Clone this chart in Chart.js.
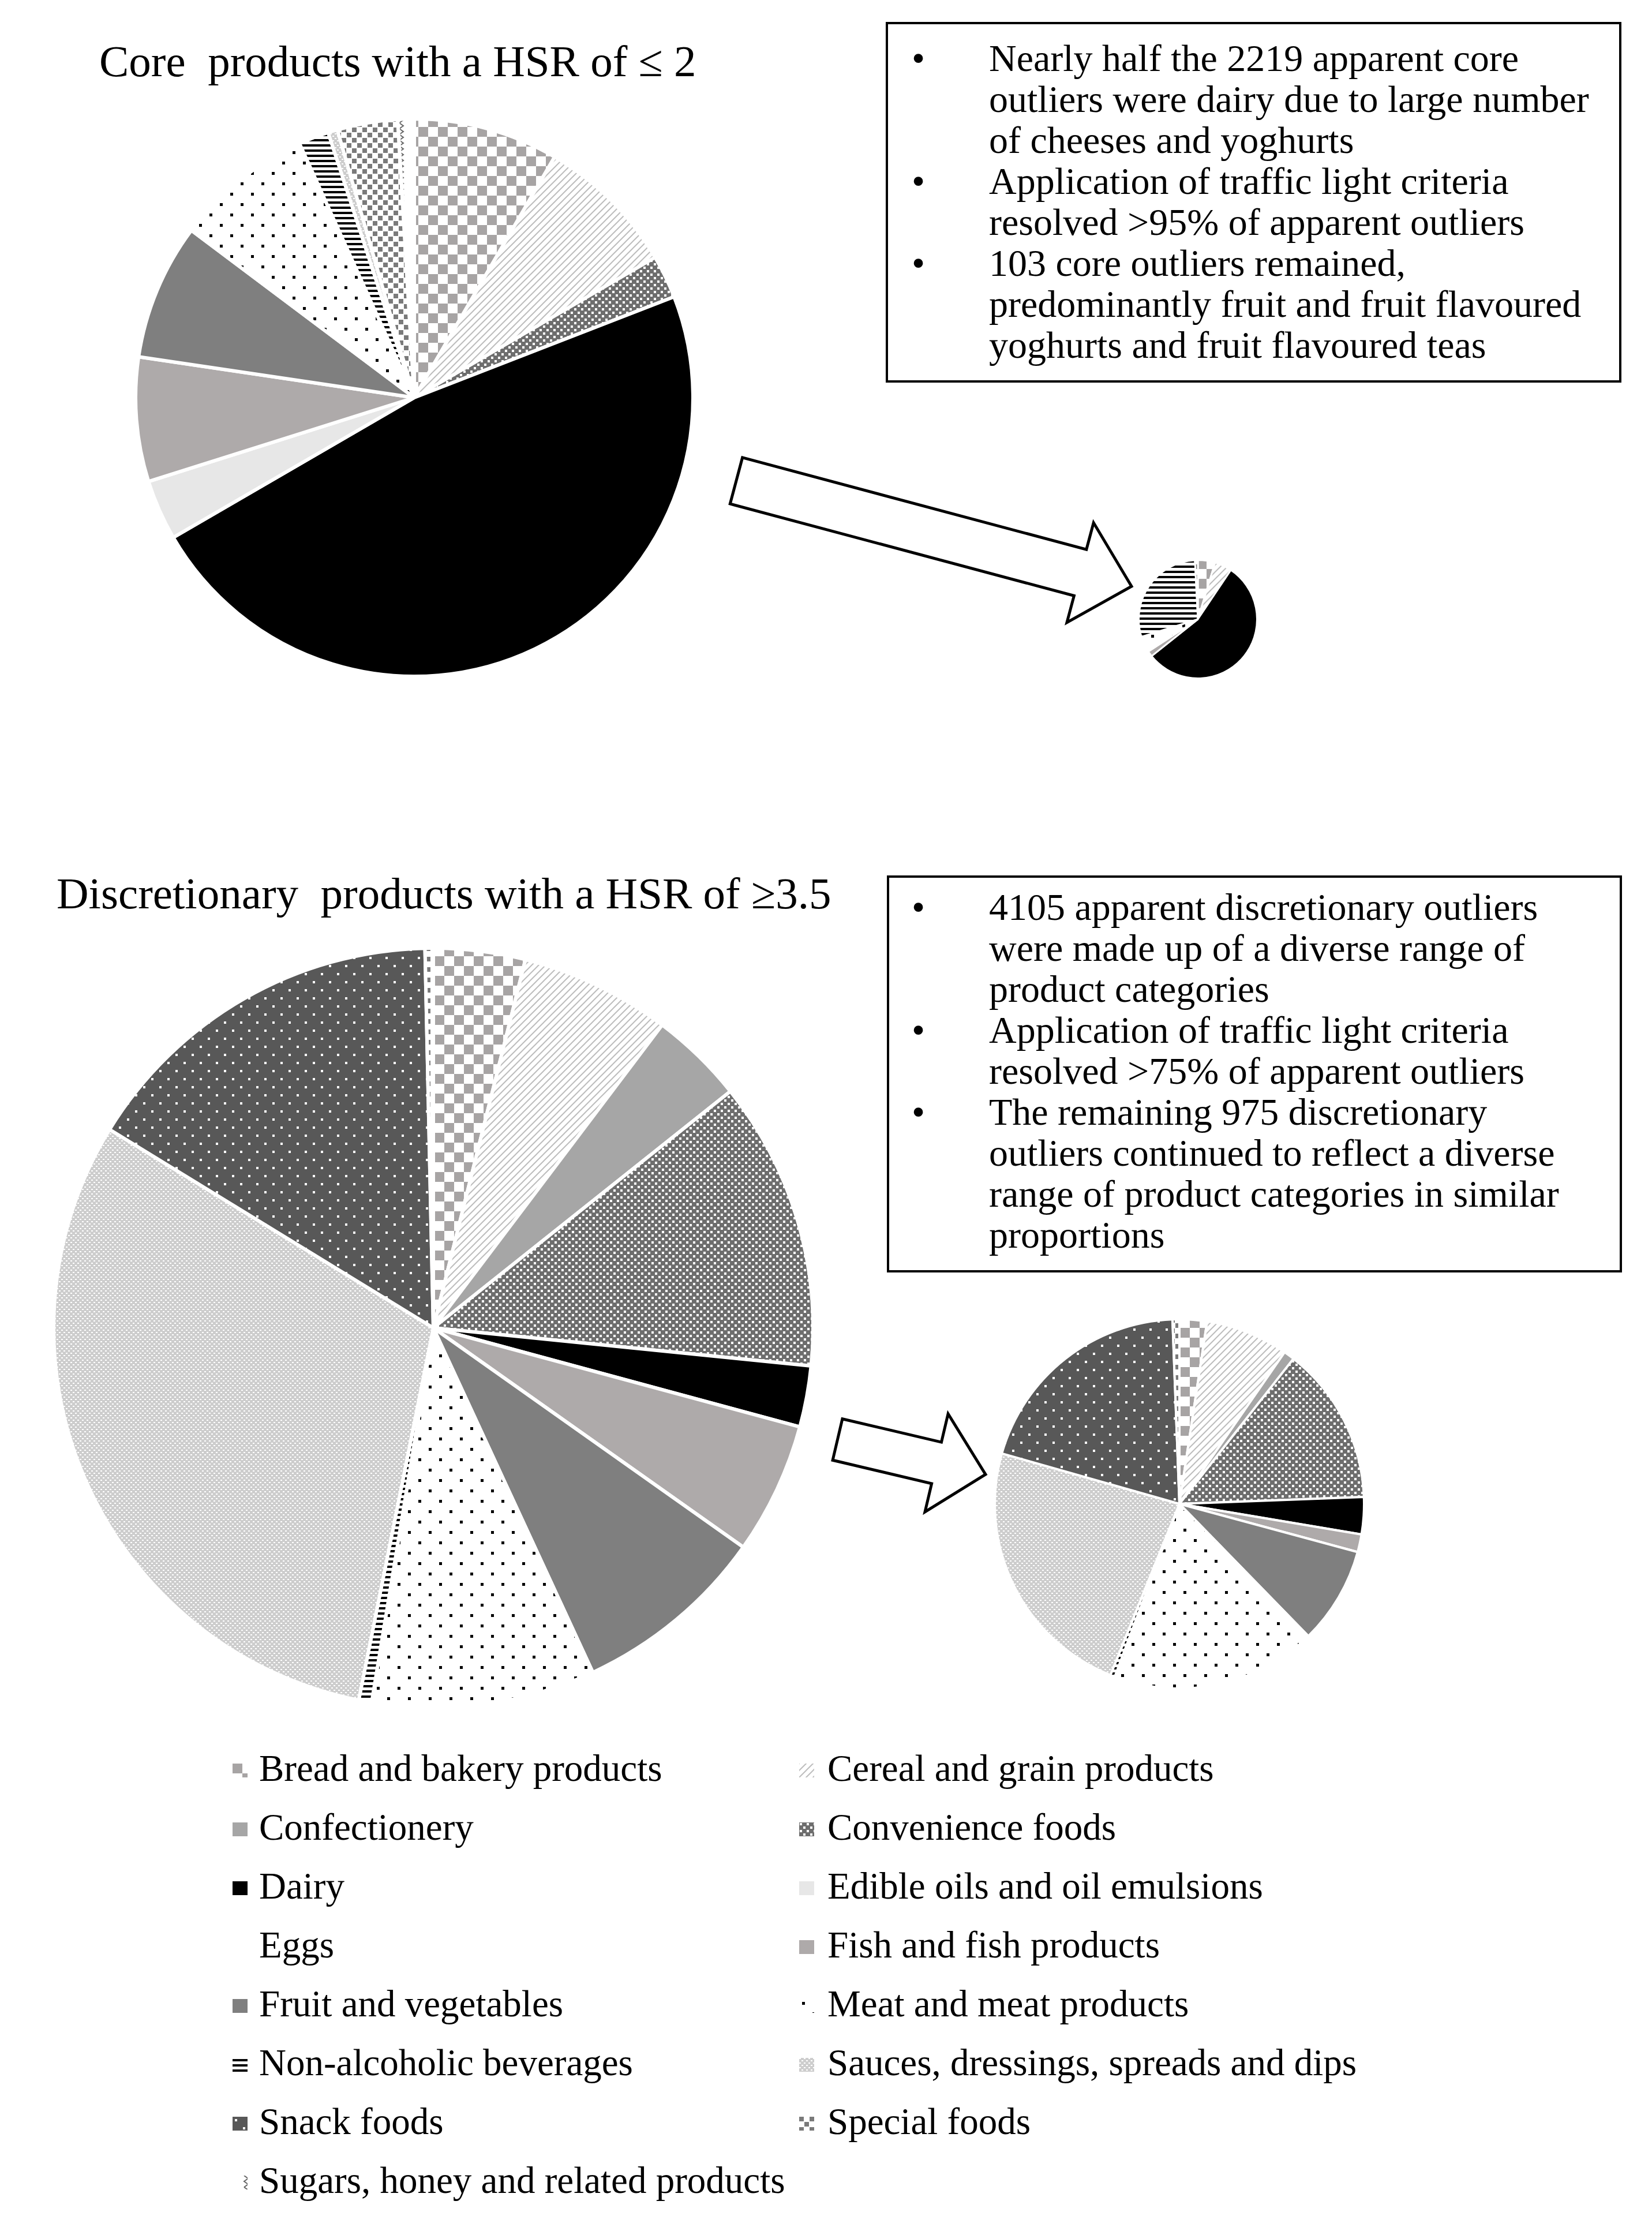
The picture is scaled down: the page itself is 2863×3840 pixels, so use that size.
<!DOCTYPE html>
<html lang="en">
<head>
<meta charset="UTF-8" />
<title>Core and discretionary outliers</title>
<style>
  html, body { margin: 0; padding: 0; background: #fff; }
  body { width: 2863px; height: 3840px; position: relative; overflow: hidden;
         font-family: "Liberation Serif", serif; color: #000; }
  .title { position: absolute; font-size: 77px; line-height: 77px; white-space: pre; }
  .box { position: absolute; border: 4px solid #000; box-sizing: border-box; }
  .item { position: relative; font-size: 66px; line-height: 71px; white-space: pre; }
  .bullet { position: absolute; top: 0; }
  canvas.pie { position: absolute; }
  .leg { position: absolute; font-size: 65px; line-height: 65px; white-space: pre; }
  .sw { position: absolute; }
  svg { position: absolute; left: 0; top: 0; }
</style>
<script src="https://cdn.jsdelivr.net/npm/chart.js"></script>
</head>
<body>

<div class="title" style="left:172px; top:68px;">Core  products with a HSR of ≤ 2</div>
<div class="title" style="left:98px; top:1510px;">Discretionary  products with a HSR of ≥3.5</div>

<div class="box" id="box1" style="left:1535px; top:38px; width:1275px; height:625px; padding:23px 0 0 175px;"></div>
<div class="box" id="box2" style="left:1537px; top:1517px; width:1274px; height:688px; padding:15px 0 0 173px;"></div>

<svg width="2863" height="3840">
  <polygon id="arrow1" fill="#fff" stroke="#000" stroke-width="5" stroke-linejoin="miter"></polygon>
  <polygon id="arrow2" fill="#fff" stroke="#000" stroke-width="5" stroke-linejoin="miter"></polygon>
</svg>

<canvas class="pie" id="coreApparentPie"></canvas>
<canvas class="pie" id="coreRemainingPie"></canvas>
<canvas class="pie" id="discApparentPie"></canvas>
<canvas class="pie" id="discRemainingPie"></canvas>

<div id="legend"></div>

<script>
  const categories = [
    "Bread and bakery products", "Cereal and grain products",
    "Confectionery", "Convenience foods",
    "Dairy", "Edible oils and oil emulsions",
    "Eggs", "Fish and fish products",
    "Fruit and vegetables", "Meat and meat products",
    "Non-alcoholic beverages", "Sauces, dressings, spreads and dips",
    "Snack foods", "Special foods",
    "Sugars, honey and related products"
  ];

  // share of outliers per category (%)
  const coreApparent  = [8.4, 8.2, 0, 2.5, 47.5, 3.5, 0, 7.2, 7.9, 8.0, 1.75, 0.55, 0, 3.5, 0.95];
  const coreRemaining = [4.7, 4.7, 0, 0, 54.9, 0, 0, 1.5, 0, 4.4, 29.0, 0, 0, 0.8, 0];
  const discApparent  = [3.9, 6.4, 4.0, 12.3, 2.6, 0, 0, 5.6, 8.3, 9.5, 0.55, 30.6, 15.9, 0.3, 0.05];
  const discRemaining = [2.4, 7.25, 0.95, 13.8, 3.25, 0, 0, 1.55, 8.5, 18.0, 0.4, 23.3, 20.0, 0.6, 0];

  const coreNotes = [
    ["Nearly half the 2219 apparent core", "outliers were dairy due to large number", "of cheeses and yoghurts"],
    ["Application of traffic light criteria", "resolved >95% of apparent outliers"],
    ["103 core outliers remained,", "predominantly fruit and fruit flavoured", "yoghurts and fruit flavoured teas"]
  ];
  const discNotes = [
    ["4105 apparent discretionary outliers", "were made up of a diverse range of", "product categories"],
    ["Application of traffic light criteria", "resolved >75% of apparent outliers"],
    ["The remaining 975 discretionary", "outliers continued to reflect a diverse", "range of product categories in similar", "proportions"]
  ];

  // black and white fill patterns, like the printed figure
  function tile(w, h, bg, draw) {
    const c = document.createElement('canvas');
    c.width = w; c.height = h;
    const g = c.getContext('2d');
    g.fillStyle = bg;
    g.fillRect(0, 0, w, h);
    if (draw) draw(g);
    return g.createPattern(c, 'repeat');
  }

  const fills = [
    tile(34, 34, '#fff', g => { g.fillStyle = '#a7a4a4'; g.fillRect(0, 0, 17, 17); g.fillRect(17, 17, 17, 17); }),
    tile(12, 12, '#fff', g => {
      g.strokeStyle = '#bdbdbd'; g.lineWidth = 2; g.beginPath();
      g.moveTo(0, 12); g.lineTo(12, 0); g.moveTo(-6, 6); g.lineTo(6, -6); g.moveTo(6, 18); g.lineTo(18, 6);
      g.stroke();
    }),
    '#a6a6a6',
    tile(12, 12, '#6e6e6e', g => { g.fillStyle = '#fff'; g.fillRect(1, 1, 4, 4); g.fillRect(7, 7, 4, 4); }),
    '#000000',
    '#e7e7e7',
    '#ffffff',
    '#aeaaaa',
    '#7f7f7f',
    tile(36, 36, '#fff', g => { g.fillStyle = '#000'; g.fillRect(5, 5, 5, 5); g.fillRect(23, 23, 5, 5); }),
    tile(9, 9, '#fff', g => { g.fillStyle = '#000'; g.fillRect(0, 2, 9, 4); }),
    tile(8, 8, '#cdcdcd', g => { g.fillStyle = '#fff'; g.fillRect(0, 0, 3, 2); g.fillRect(4, 4, 3, 2); }),
    tile(28, 28, '#585858', g => { g.fillStyle = '#fff'; g.fillRect(4, 4, 4, 4); g.fillRect(18, 18, 4, 4); }),
    tile(18, 18, '#fff', g => { g.fillStyle = '#7a7a7a'; g.fillRect(0, 0, 8, 8); g.fillRect(9, 9, 8, 8); }),
    tile(40, 20, '#fff', g => {
      g.strokeStyle = '#666'; g.lineWidth = 2; g.beginPath();
      g.moveTo(20, 0); g.lineTo(27, 5); g.lineTo(20, 10); g.lineTo(27, 15); g.lineTo(20, 20);
      g.stroke();
    })
  ];

  function drawPie(id, values, cx, cy, r, bw) {
    const size = 2 * (r + bw);
    const canvas = document.getElementById(id);
    canvas.width = size;
    canvas.height = size;
    canvas.style.left = (cx - size / 2) + 'px';
    canvas.style.top = (cy - size / 2) + 'px';
    canvas.style.width = size + 'px';
    canvas.style.height = size + 'px';
    return new Chart(canvas, {
      type: 'pie',
      data: {
        labels: categories,
        datasets: [{ data: values, backgroundColor: fills, borderColor: '#ffffff', borderWidth: bw }]
      },
      options: {
        responsive: false,
        devicePixelRatio: 1,
        animation: false,
        events: [],
        layout: { padding: 0 },
        plugins: { legend: { display: false }, tooltip: { enabled: false } }
      }
    });
  }

  drawPie('coreApparentPie', coreApparent, 718, 689, 480, 6);
  drawPie('coreRemainingPie', coreRemaining, 2076, 1073, 101, 3);
  drawPie('discApparentPie', discApparent, 751, 2301, 655, 6);
  drawPie('discRemainingPie', discRemaining, 2044, 2606, 318, 4);

  // note boxes
  function fillBox(id, notes, bulletLeft) {
    const box = document.getElementById(id);
    notes.forEach(lines => {
      const item = document.createElement('div');
      item.className = 'item';
      item.textContent = lines.join('\n');
      const b = document.createElement('span');
      b.className = 'bullet';
      b.textContent = '•';
      b.style.left = (bulletLeft - 175) + 'px';
      item.appendChild(b);
      box.appendChild(item);
    });
  }
  fillBox('box1', coreNotes, 41);
  fillBox('box2', discNotes, 41);

  // arrows between the pies
  function arrow(L, T, shaftHalf, headHalf, headLen) {
    const len = Math.hypot(T[0] - L[0], T[1] - L[1]);
    const d = [(T[0] - L[0]) / len, (T[1] - L[1]) / len];
    const n = [-d[1], d[0]];
    const B = [T[0] - headLen * d[0], T[1] - headLen * d[1]];
    const p = (P, k) => [P[0] + k * n[0], P[1] + k * n[1]];
    return [p(L, -shaftHalf), p(B, -shaftHalf), p(B, -headHalf), T, p(B, headHalf), p(B, shaftHalf), p(L, shaftHalf)]
      .map(q => q[0].toFixed(1) + ',' + q[1].toFixed(1)).join(' ');
  }
  document.getElementById('arrow1').setAttribute('points', arrow([1276, 833], [1961, 1016], 41.5, 89.5, 92));
  document.getElementById('arrow2').setAttribute('points', arrow([1451.5, 2494.5], [1708, 2555], 36.8, 87.4, 87.3));

  // legend in two columns
  const legend = document.getElementById('legend');
  categories.forEach((name, i) => {
    const row = Math.floor(i / 2), col = i % 2;
    const cy = 3066 + row * 102;
    const sw = document.createElement('canvas');
    sw.className = 'sw';
    sw.width = 26; sw.height = 24;
    sw.style.left = (col ? 1385 : 403) + 'px';
    sw.style.top = (cy - 10) + 'px';
    const g = sw.getContext('2d');
    g.fillStyle = fills[i];
    g.fillRect(0, 0, 26, 24);
    legend.appendChild(sw);
    const t = document.createElement('div');
    t.className = 'leg';
    t.textContent = name;
    t.style.left = (col ? 1434 : 449) + 'px';
    t.style.top = (cy - 34) + 'px';
    legend.appendChild(t);
  });
</script>
</body>
</html>
